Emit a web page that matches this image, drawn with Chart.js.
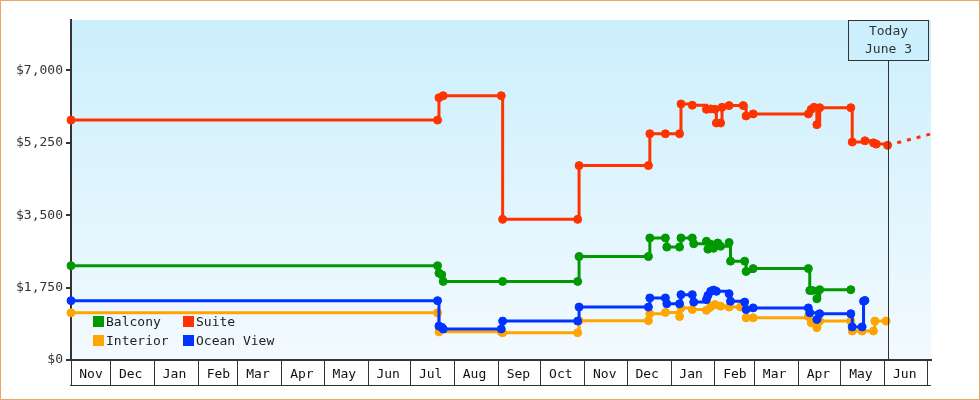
<!DOCTYPE html>
<html lang="en">
<head>
<meta charset="UTF-8">
<title>Cabin prices</title>
<script src="https://cdn.jsdelivr.net/npm/chart.js"></script>
<style>
  body { margin: 0; background: #fff; }
  #wrap { position: relative; width: 978px; height: 398px; border: 1px solid #e9a864; }
  .sw { position: absolute; width: 11px; height: 11px; }
  .lt { position: absolute; font: 13px/13px 'DejaVu Sans Mono', monospace; color: #222; white-space: nowrap; }
</style>
</head>
<body>
<div id="wrap">
  <canvas id="chart"></canvas>
  <div class="sw" style="left:92px;top:315px;background:#009900"></div><div class="lt" style="left:105px;top:314px">Balcony</div>
  <div class="sw" style="left:182px;top:315px;background:#ff3300"></div><div class="lt" style="left:195px;top:314px">Suite</div>
  <div class="sw" style="left:92px;top:334px;background:#ffa500"></div><div class="lt" style="left:105px;top:333px">Interior</div>
  <div class="sw" style="left:182px;top:334px;background:#0033ff"></div><div class="lt" style="left:195px;top:333px">Ocean View</div>
</div>
<script>
// prices: [date, price]
const balcony = [['2012-11-03',2280],['2013-07-20',2280],['2013-07-21',2100],['2013-07-23',2060],['2013-07-24',1900],
  ['2013-09-04',1900],['2013-10-27',1900],['2013-10-28',2500],['2013-12-16',2500],['2013-12-17',2950],['2013-12-28',2950],
  ['2013-12-29',2730],['2014-01-07',2730],['2014-01-08',2950],['2014-01-16',2950],['2014-01-17',2810],['2014-01-26',2870],
  ['2014-01-27',2680],['2014-01-29',2800],['2014-01-31',2700],['2014-02-03',2830],['2014-02-05',2750],['2014-02-11',2840],
  ['2014-02-12',2390],['2014-02-22',2390],['2014-02-23',2140],['2014-02-28',2210],['2014-04-08',2210],['2014-04-09',1680],
  ['2014-04-11',1680],['2014-04-14',1480],['2014-04-16',1700],['2014-05-08',1700]];

const suite = [['2012-11-03',5800],['2013-07-20',5800],['2013-07-21',6340],['2013-07-24',6390],['2013-09-03',6390],
  ['2013-09-04',3400],['2013-10-27',3400],['2013-10-28',4700],['2013-12-16',4700],['2013-12-17',5470],['2013-12-28',5470],
  ['2014-01-07',5470],['2014-01-08',6190],['2014-01-16',6160],['2014-01-26',6060],['2014-01-29',6070],['2014-02-01',6060],
  ['2014-02-02',5730],['2014-02-05',5730],['2014-02-06',6110],['2014-02-11',6150],['2014-02-21',6150],['2014-02-23',5900],
  ['2014-02-28',5950],['2014-04-08',5950],['2014-04-10',6060],['2014-04-12',6110],['2014-04-14',5690],['2014-04-16',6100],
  ['2014-05-08',6100],['2014-05-09',5270],['2014-05-18',5300],['2014-05-24',5250],['2014-05-26',5220],['2014-06-03',5190]];

const suiteForecast = [['2014-06-03',5190],['2014-07-03',5460]];

const interior = [['2012-11-03',1140],['2013-07-20',1140],['2013-07-21',680],['2013-09-03',680],['2013-09-04',660],
  ['2013-10-27',660],['2013-10-28',950],['2013-12-16',950],['2013-12-17',1120],['2013-12-28',1150],['2014-01-07',1050],
  ['2014-01-08',1260],['2014-01-16',1220],['2014-01-26',1200],['2014-01-29',1290],['2014-02-01',1340],['2014-02-05',1300],
  ['2014-02-11',1280],['2014-02-19',1280],['2014-02-23',1020],['2014-02-28',1020],['2014-04-08',1050],['2014-04-10',900],
  ['2014-04-14',780],['2014-04-16',940],['2014-05-08',940],['2014-05-09',700],['2014-05-16',700],['2014-05-24',700],
  ['2014-05-25',940],['2014-06-02',940]];

const oceanView = [['2012-11-03',1435],['2013-07-20',1435],['2013-07-21',820],['2013-07-23',790],['2013-07-24',750],
  ['2013-09-03',750],['2013-09-04',940],['2013-10-27',940],['2013-10-28',1280],['2013-12-16',1280],['2013-12-17',1500],
  ['2013-12-28',1500],['2013-12-29',1360],['2014-01-07',1360],['2014-01-08',1580],['2014-01-16',1580],['2014-01-17',1400],
  ['2014-01-26',1460],['2014-01-27',1560],['2014-01-29',1660],['2014-01-31',1690],['2014-02-02',1660],['2014-02-11',1600],
  ['2014-02-12',1420],['2014-02-22',1400],['2014-02-23',1220],['2014-02-28',1260],['2014-04-08',1260],['2014-04-09',1140],
  ['2014-04-14',980],['2014-04-16',1120],['2014-05-08',1120],['2014-05-09',800],['2014-05-16',800],['2014-05-17',1420],
  ['2014-05-18',1440]];

const monthStarts = ['2012-11-03','2012-12-01','2013-01-01','2013-02-01','2013-03-01','2013-04-01','2013-05-01',
  '2013-06-01','2013-07-01','2013-08-01','2013-09-01','2013-10-01','2013-11-01','2013-12-01','2014-01-01','2014-02-01',
  '2014-03-01','2014-04-01','2014-05-01','2014-06-01','2014-07-01'];
const tickLabels = ['Nov','Dec','Jan','Feb','Mar','Apr','May','Jun','Jul','Aug','Sep','Oct','Nov','Dec','Jan','Feb',
  'Mar','Apr','May','Jun',''];
const yTicks = [0, 1750, 3500, 5250, 7000];
const today = '2014-06-03';

const ts = d => Date.parse(d + 'T00:00:00Z');

function series(rows, color) {
  return {
    data: rows.map(([d, v]) => ({ x: ts(d), y: v })),
    borderColor: color, backgroundColor: color,
    borderWidth: 3, stepped: true,
    pointRadius: 4, pointBorderWidth: 1, pointHoverRadius: 4,
    clip: false
  };
}

const bgPlugin = {
  id: 'bg',
  beforeDraw(chart) {
    const { ctx, chartArea: a } = chart;
    const g = ctx.createLinearGradient(0, a.top, 0, a.bottom);
    g.addColorStop(0, '#cbeffc');
    g.addColorStop(1, '#f3faff');
    ctx.fillStyle = g;
    ctx.fillRect(a.left, a.top, a.right - a.left, a.bottom - a.top);
  }
};

const todayPlugin = {
  id: 'today',
  afterDatasetsDraw(chart) {
    const { ctx, chartArea: a, scales } = chart;
    const x = Math.round(scales.x.getPixelForValue(ts(today))) + 0.5;
    ctx.save();
    ctx.strokeStyle = '#333';
    ctx.lineWidth = 1;
    ctx.beginPath();
    ctx.moveTo(x, a.top + 41);
    ctx.lineTo(x, a.bottom);
    ctx.stroke();
    ctx.fillStyle = '#cbeffc';
    ctx.fillRect(x - 40, a.top + 0.5, 80, 40);
    ctx.strokeRect(x - 40, a.top + 0.5, 80, 40);
    ctx.fillStyle = '#333';
    ctx.font = "13px 'DejaVu Sans Mono'";
    ctx.textAlign = 'center';
    ctx.textBaseline = 'middle';
    ctx.fillText('Today', x, a.top + 12);
    ctx.fillText('June 3', x, a.top + 30);
    ctx.restore();
  },
  afterDraw(chart) {
    const { ctx, chartArea: a, scales } = chart;
    ctx.save();
    ctx.strokeStyle = '#333';
    ctx.lineWidth = 1;
    ctx.beginPath();
    ctx.moveTo(a.left - 1, scales.x.bottom + 0.5);
    ctx.lineTo(a.right, scales.x.bottom + 0.5);
    ctx.stroke();
    ctx.restore();
  }
};

Chart.defaults.font.family = "'DejaVu Sans Mono', monospace";
Chart.defaults.font.size = 13;

const forecast = series(suiteForecast, '#ff3300');
forecast.stepped = false;
forecast.pointRadius = 0;
forecast.borderDash = [4, 6];

new Chart(document.getElementById('chart'), {
  type: 'line',
  data: {
    datasets: [
      series(oceanView, '#0033ff'),
      series(interior, '#ffa500'),
      series(balcony, '#009900'),
      series(suite, '#ff3300'),
      forecast
    ]
  },
  options: {
    responsive: true,
    maintainAspectRatio: false,
    animation: false,
    layout: { padding: { top: 19, right: 48, bottom: 14, left: 0 } },
    plugins: { legend: { display: false }, tooltip: { enabled: false } },
    scales: {
      x: {
        type: 'linear',
        min: ts('2012-11-03'),
        max: ts('2014-07-03') + 16 * 3600e3,
        afterBuildTicks: axis => { axis.ticks = monthStarts.map(d => ({ value: ts(d) })); },
        afterFit: axis => { axis.height = 25; },
        ticks: { autoSkip: false, maxRotation: 0, padding: -18, labelOffset: 20, color: '#111',
          callback: (v, i) => tickLabels[i] },
        grid: { drawOnChartArea: false, tickLength: 25, color: '#333', lineWidth: 1 },
        border: { color: '#333', width: 2 }
      },
      y: {
        min: 0,
        max: 8220,
        afterBuildTicks: axis => { axis.ticks = yTicks.map(v => ({ value: v })); },
        afterFit: axis => { axis.width = 70; },
        ticks: { color: '#333', padding: 3, callback: v => '$' + v.toLocaleString('en-US') },
        grid: { drawOnChartArea: false, tickLength: 5, color: '#333', lineWidth: 2 },
        border: { color: '#333', width: 2 }
      }
    }
  },
  plugins: [bgPlugin, todayPlugin]
});
</script>
</body>
</html>
